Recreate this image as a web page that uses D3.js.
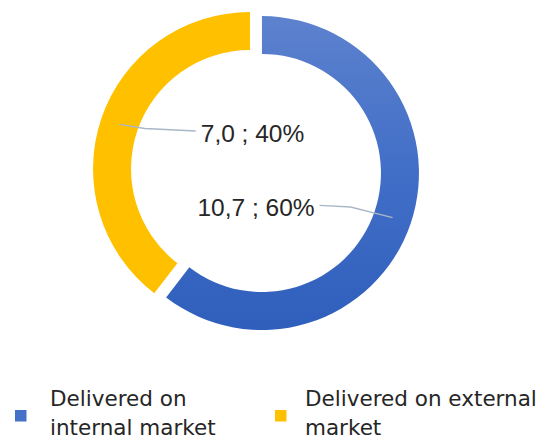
<!DOCTYPE html>
<html>
<head>
<meta charset="utf-8">
<script src="https://cdn.jsdelivr.net/npm/d3@7"></script>
<style>
  body { margin: 0; background: #fff; }
  svg { display: block; }
</style>
</head>
<body>
<svg width="545" height="440"></svg>
<script>
// chart data
var categories = ["Delivered on internal market", "Delivered on external market"];
var legendLines = [["Delivered on", "internal market"], ["Delivered on external", "market"]];
var values = [10.7, 7.0];
var colors = ["#3f6cc6", "#ffc000"];

var svg = d3.select("svg");
var cx = 256, cy = 171;
var outerR = 157, innerR = 119;
var explode = 6.3;

// comma decimal for labels
var locale = d3.formatLocale({decimal: ",", thousands: " ", grouping: [3], currency: ["", ""]});
var fmtVal = locale.format(".1f");
var fmtPct = d3.format(".0%");
var total = d3.sum(values);

// blue gradient (lighter on top), in the slice's own coordinates
var defs = svg.append("defs");
var grad = defs.append("linearGradient")
  .attr("id", "blueGrad")
  .attr("gradientUnits", "userSpaceOnUse")
  .attr("x1", 0).attr("y1", -outerR)
  .attr("x2", 0).attr("y2", outerR);
grad.append("stop").attr("offset", "0%").attr("stop-color", "#5d82ce");
grad.append("stop").attr("offset", "50%").attr("stop-color", "#416ec7");
grad.append("stop").attr("offset", "100%").attr("stop-color", "#2f5fbc");

var pie = d3.pie().sort(null).value(function(d) { return d; });
var arcs = pie(values);
var arc = d3.arc().innerRadius(innerR).outerRadius(outerR);

// offset of each exploded slice
function shift(d) {
  var a = (d.startAngle + d.endAngle) / 2;
  return [Math.sin(a) * explode, -Math.cos(a) * explode];
}

var g = svg.append("g").attr("transform", "translate(" + cx + "," + cy + ")");

g.selectAll("path.slice")
  .data(arcs)
  .enter().append("path")
  .attr("class", "slice")
  .attr("d", arc)
  .attr("transform", function(d) { var s = shift(d); return "translate(" + s[0] + "," + s[1] + ")"; })
  .attr("fill", function(d, i) { return i == 0 ? "url(#blueGrad)" : colors[i]; });

// label layout: offset of text center/baseline from chart center, and leader bend
var labelPos = [[0, 45], [-3.5, -29.3]];
var bendOff = [[31, 1.7], [-51, -2.5]];

var labels = g.selectAll("text.lbl")
  .data(arcs)
  .enter().append("text")
  .attr("class", "lbl")
  .attr("x", function(d, i) { return labelPos[i][0]; })
  .attr("y", function(d, i) { return labelPos[i][1]; })
  .attr("text-anchor", "middle")
  .attr("font-family", "'Liberation Sans', Arial, sans-serif")
  .attr("font-size", "24.5px")
  .attr("fill", "#262626")
  .text(function(d) { return fmtVal(d.value) + " ; " + fmtPct(d.value / total); });

// leader lines from label edge to the slice centroid
labels.each(function(d, i) {
  var bb = this.getBBox();
  var right = d.index == 0;
  var ex = right ? bb.x + bb.width + 5 : bb.x - 5;
  var ey = labelPos[i][1] - 10.7;
  var bx = ex + bendOff[i][0], by = ey + bendOff[i][1];
  var c = arc.centroid(d), s = shift(d);
  g.insert("path", "text")
    .attr("d", d3.line()([[ex, ey], [bx, by], [c[0] + s[0], c[1] + s[1]]]))
    .attr("fill", "none")
    .attr("stroke", "#a9b6c8")
    .attr("stroke-width", 1.3);
});

// legend
var legendX = [15, 275];
var legend = svg.selectAll("g.legend")
  .data(categories)
  .enter().append("g")
  .attr("class", "legend")
  .attr("transform", function(d, i) { return "translate(" + legendX[i] + ",410)"; });

legend.append("rect")
  .attr("width", 11.5).attr("height", 11.5)
  .attr("fill", function(d, i) { return i == 0 ? "#4572c8" : colors[i]; });

legend.each(function(d, i) {
  var t = d3.select(this).append("text")
    .attr("font-family", "'DejaVu Sans', Verdana, sans-serif")
    .attr("font-size", "21.5px")
    .attr("fill", "#262626");
  legendLines[i].forEach(function(line, j) {
    t.append("tspan")
      .attr("x", i == 0 ? 35 : 30)
      .attr("y", -4 + j * 29)
      .text(line);
  });
});
</script>
</body>
</html>
